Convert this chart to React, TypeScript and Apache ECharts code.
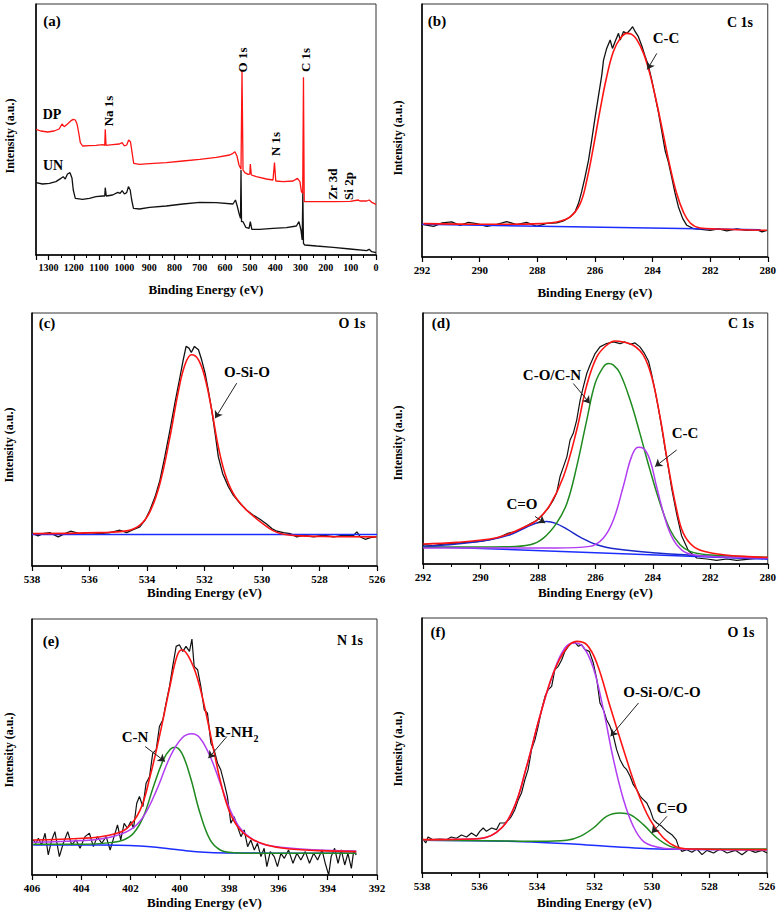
import React, { useEffect, useRef } from 'react';
import * as echarts from 'echarts';

const FONT = '"Liberation Serif", "Times New Roman", Times, serif';

// ---------- (a) survey spectra [binding energy, intensity a.u.] ----------
const aDP: number[][] = [
  [1350, 377], [1331, 372], [1304, 369], [1278, 372], [1258, 378], [1247, 393], [1238, 385],
  [1225, 393], [1211, 403], [1202, 407], [1194, 405], [1187, 393], [1180, 365], [1174, 337],
  [1165, 327], [1138, 328], [1112, 329], [1085, 331], [1077, 329], [1075, 377], [1072, 329],
  [1046, 331], [1019, 333], [1008, 337], [999, 327], [990, 330], [982, 345], [975, 340],
  [968, 305], [962, 275], [939, 272], [899, 274], [833, 277], [767, 282], [700, 287],
  [634, 293], [581, 300], [568, 305], [560, 310], [552, 297], [544, 270], [536, 257],
  [532, 553], [528, 255], [521, 247], [508, 242], [501, 243], [499, 273], [495, 240],
  [475, 235], [435, 228], [409, 225], [403, 277], [398, 222], [369, 220], [329, 222],
  [312, 230], [302, 220], [296, 190], [291, 185], [288, 533], [285, 160], [236, 160],
  [170, 160], [103, 161], [70, 165], [64, 162], [37, 162], [27, 165], [17, 158], [0, 152],
];
const aUN: number[][] = [
  [1350, 217], [1324, 213], [1297, 215], [1271, 220], [1251, 230], [1242, 235], [1234, 228],
  [1225, 243], [1215, 247], [1207, 230], [1202, 195], [1194, 170], [1165, 167], [1138, 170],
  [1112, 175], [1085, 177], [1077, 177], [1075, 202], [1071, 177], [1046, 180], [1025, 188],
  [1016, 185], [1008, 193], [999, 183], [990, 187], [983, 205], [976, 195], [970, 165],
  [963, 140], [939, 138], [899, 143], [833, 147], [767, 153], [700, 158], [634, 157],
  [568, 153], [558, 165], [551, 147], [544, 125], [538, 110], [536, 255], [534, 100],
  [528, 100], [517, 83], [504, 80], [499, 100], [493, 77], [462, 77], [409, 80], [356, 82],
  [316, 87], [306, 100], [298, 75], [293, 45], [290.5, 190], [288, 35], [283, 30],
  [236, 27], [170, 23], [103, 18], [37, 13], [27, 17], [17, 10], [0, 7],
];

// ---------- (b) C 1s ----------
const bRaw: number[][] = [
  [291.95, 97], [291.6, 92], [291.3, 102], [290.97, 105], [290.68, 95], [290.39, 104],
  [290.1, 100], [289.75, 92], [289.4, 98], [289.06, 106], [288.71, 97], [288.37, 104],
  [288.02, 92], [287.67, 101], [287.32, 102], [287.09, 108], [286.86, 120], [286.69, 135],
  [286.57, 160], [286.46, 195], [286.34, 240], [286.22, 290], [286.11, 350], [285.99, 420],
  [285.88, 480], [285.76, 545], [285.7, 590], [285.59, 625], [285.47, 650], [285.39, 625],
  [285.3, 645], [285.18, 670], [285.12, 650], [285.01, 675], [284.89, 670], [284.78, 680],
  [284.69, 690], [284.6, 675], [284.49, 660], [284.37, 632], [284.26, 602], [284.14, 572],
  [284.03, 532], [283.91, 482], [283.79, 432], [283.68, 378], [283.56, 318], [283.45, 285],
  [283.33, 238], [283.22, 192], [283.1, 150], [282.95, 115], [282.81, 95], [282.58, 85],
  [282.23, 82], [282.0, 80], [281.71, 84], [281.42, 78], [281.07, 84], [280.73, 80],
  [280.38, 82], [280.2, 75], [280.03, 80],
];
const bFit: number[][] = [
  [291.95, 100], [289.64, 98], [287.9, 100], [287.32, 105], [286.86, 120], [286.51, 160],
  [286.28, 230], [286.05, 330], [285.82, 440], [285.59, 540], [285.36, 615], [285.12, 655],
  [284.89, 670], [284.72, 667], [284.55, 652], [284.31, 610], [284.08, 545], [283.85, 460],
  [283.62, 365], [283.39, 270], [283.16, 190], [282.93, 135], [282.69, 102], [282.35, 87],
  [281.77, 84], [280.03, 80],
];
const bBase: number[][] = [[292, 98], [280.25, 82]];
const bArrows: number[][] = [[283.85, 610, 284.18, 562]];

// ---------- (c) O 1s ----------
const cRaw: number[][] = [
  [537.97, 97], [537.79, 90], [537.62, 97], [537.38, 100], [537.09, 87], [536.86, 97],
  [536.66, 104], [536.34, 97], [535.99, 100], [535.64, 97], [535.29, 100], [534.94, 107],
  [534.71, 100], [534.48, 109], [534.25, 117], [534.07, 137], [533.9, 167], [533.72, 207],
  [533.55, 257], [533.38, 327], [533.2, 407], [533.03, 487], [532.85, 567], [532.74, 617],
  [532.64, 657], [532.54, 652], [532.46, 639], [532.35, 657], [532.21, 647], [532.1, 617],
  [531.98, 577], [531.87, 527], [531.75, 467], [531.63, 397], [531.52, 327], [531.37, 277],
  [531.17, 237], [531.0, 212], [530.76, 187], [530.53, 167], [530.3, 152], [530.07, 140],
  [529.83, 125], [529.66, 112], [529.48, 104], [529.25, 100], [529.02, 97], [528.79, 87],
  [528.56, 92], [528.21, 87], [527.86, 92], [527.51, 87], [527.16, 92], [526.81, 92],
  [526.7, 102], [526.58, 87], [526.41, 80], [526.23, 85], [526.02, 87],
];
const cFit: number[][] = [
  [537.97, 97], [535.64, 100], [534.71, 105], [534.25, 122], [533.9, 162], [533.55, 247],
  [533.2, 387], [532.91, 522], [532.68, 602], [532.45, 632], [532.21, 617], [531.98, 562],
  [531.75, 467], [531.52, 357], [531.29, 277], [531.0, 217], [530.65, 177], [530.3, 149],
  [529.95, 125], [529.6, 105], [529.25, 95], [528.67, 90], [527.51, 88], [526.02, 87],
];
const cBase: number[][] = [[538, 94], [526, 94]];
const cArrows: number[][] = [[530.88, 547, 531.63, 442]];

// ---------- (d) C 1s deconvolution ----------
const dRaw: number[][] = [
  [291.99, 58], [291.64, 55], [291.29, 60], [290.83, 63], [290.36, 66], [290.02, 68],
  [289.67, 73], [289.32, 81], [289.03, 93], [288.74, 98], [288.51, 108], [288.27, 121],
  [288.04, 131], [287.81, 151], [287.64, 168], [287.46, 193], [287.35, 213], [287.23, 263],
  [287.11, 293], [286.99, 323], [286.88, 373], [286.77, 393], [286.65, 433], [286.53, 493],
  [286.42, 533], [286.3, 573], [286.19, 598], [286.01, 633], [285.84, 653], [285.61, 663],
  [285.37, 668], [285.14, 663], [284.97, 668], [284.79, 661], [284.62, 665], [284.45, 653],
  [284.31, 636], [284.15, 610], [284.04, 570], [283.92, 520], [283.81, 470], [283.69, 410],
  [283.57, 345], [283.46, 290], [283.34, 225], [283.17, 150], [283.0, 85], [282.76, 40],
  [282.47, 18], [282.12, 15], [281.78, 11], [281.43, 15], [281.08, 11], [280.73, 14],
  [280.38, 17], [280.04, 18],
];
const dFit: number[][] = [
  [291.99, 60], [290.83, 65], [289.67, 75], [289.09, 88], [288.51, 110], [288.04, 131],
  [287.58, 178], [287.11, 263], [286.65, 403], [286.3, 538], [285.95, 623], [285.61, 658],
  [285.32, 671], [285.03, 668], [284.68, 658], [284.33, 628], [284.04, 563], [283.75, 443],
  [283.46, 293], [283.17, 163], [282.94, 93], [282.59, 53], [282.12, 36], [281.54, 28],
  [280.85, 23], [280.0, 20],
];
const dCON: number[][] = [
  [291.99, 50], [290.83, 51], [289.09, 52], [288.27, 58], [287.81, 78], [287.35, 123],
  [286.99, 183], [286.65, 293], [286.3, 433], [286.01, 543], [285.72, 593], [285.55, 603],
  [285.37, 598], [285.14, 573], [284.79, 493], [284.45, 393], [284.1, 283], [283.75, 183],
  [283.4, 103], [283.05, 58], [282.7, 38], [282.12, 28], [280.0, 20],
];
const dCC: number[][] = [
  [291.99, 48], [289.67, 48], [287.35, 48], [286.19, 53], [285.72, 78], [285.37, 133],
  [285.03, 233], [284.74, 323], [284.51, 351], [284.33, 348], [284.1, 313], [283.87, 233],
  [283.63, 153], [283.4, 93], [283.17, 58], [282.82, 33], [282.12, 23], [280.0, 18],
];
const dCdO: number[][] = [
  [291.99, 53], [290.83, 60], [289.67, 73], [288.97, 88], [288.39, 111], [287.99, 125],
  [287.69, 128], [287.4, 123], [286.99, 105], [286.53, 81], [285.95, 58], [285.26, 45],
  [283.87, 33], [281.54, 21], [280.0, 16],
];
const dBase: number[][] = [[292, 53], [280, 15]];
const dArrows: number[][] = [
  [286.77, 543, 286.19, 483],
  [283.17, 343, 283.92, 293],
  [288.1, 143, 287.75, 123],
];

// ---------- (e) N 1s ----------
const eRaw: number[][] = [
  [405.95, 105], [405.84, 95], [405.74, 110], [405.61, 90], [405.47, 125], [405.34, 60],
  [405.2, 105], [405.07, 130], [404.89, 55], [404.73, 95], [404.55, 130], [404.39, 90],
  [404.21, 105], [404.05, 80], [403.85, 115], [403.67, 125], [403.51, 85], [403.35, 115],
  [403.17, 95], [402.99, 115], [402.83, 75], [402.67, 115], [402.53, 150], [402.4, 105],
  [402.26, 155], [402.13, 140], [401.99, 160], [401.88, 140], [401.75, 215], [401.64, 235],
  [401.5, 205], [401.37, 275], [401.23, 295], [401.1, 365], [400.96, 375], [400.83, 445],
  [400.69, 465], [400.56, 515], [400.42, 565], [400.29, 625], [400.15, 685], [400.02, 690],
  [399.88, 670], [399.75, 685], [399.61, 670], [399.51, 707], [399.42, 625], [399.28, 615],
  [399.15, 565], [399.01, 495], [398.88, 485], [398.74, 395], [398.61, 375], [398.47, 335],
  [398.34, 315], [398.2, 275], [398.07, 235], [397.93, 155], [397.8, 175], [397.66, 145],
  [397.52, 115], [397.39, 135], [397.25, 85], [397.12, 105], [396.98, 75], [396.85, 95],
  [396.71, 55], [396.58, 80], [396.47, 25], [396.33, 70], [396.17, 55], [396.04, 25],
  [395.9, 65], [395.76, 50], [395.59, 75], [395.41, 35], [395.25, 65], [395.09, 45],
  [394.91, 70], [394.74, 35], [394.57, 65], [394.41, 45], [394.23, 75], [394.1, 35],
  [393.96, 0], [393.86, 55], [393.72, 80], [393.58, 35], [393.45, 75], [393.31, 30],
  [393.18, 65], [393.04, 20], [392.95, 70], [392.84, 60],
];
const eFit: number[][] = [
  [405.95, 105], [403.91, 110], [402.83, 120], [402.15, 140], [401.61, 195], [401.21, 295],
  [400.8, 425], [400.39, 570], [400.12, 655], [399.92, 675], [399.65, 655], [399.31, 595],
  [398.97, 495], [398.63, 375], [398.3, 265], [397.96, 185], [397.55, 135], [397.01, 105],
  [396.47, 90], [395.79, 80], [394.44, 73], [392.84, 70],
];
const eCN: number[][] = [
  [405.95, 92], [403.91, 92], [402.83, 97], [402.29, 105], [401.88, 125], [401.48, 175],
  [401.07, 265], [400.67, 345], [400.39, 377], [400.19, 383], [399.92, 365], [399.58, 295],
  [399.18, 185], [398.77, 105], [398.36, 75], [397.82, 67], [396.47, 65], [392.84, 65],
];
const eRNH2: number[][] = [
  [405.95, 98], [403.91, 103], [402.83, 113], [402.02, 135], [401.48, 175], [400.94, 255],
  [400.39, 355], [399.92, 410], [399.51, 423], [399.18, 410], [398.77, 355], [398.36, 275],
  [397.96, 195], [397.55, 140], [397.01, 105], [396.47, 89], [395.11, 78], [392.84, 72],
];
const eBase: number[][] = [
  [405.95, 90], [403.24, 90], [401.61, 87], [400.8, 82], [399.99, 75], [399.18, 69],
  [398.09, 66], [392.84, 65],
];
const eArrows: number[][] = [
  [401.41, 385, 400.6, 340],
  [398.09, 415, 398.84, 350],
];

// ---------- (f) O 1s deconvolution ----------
const fRaw: number[][] = [
  [537.97, 102], [537.87, 90], [537.79, 108], [537.62, 100], [537.38, 102], [537.15, 100],
  [536.98, 108], [536.8, 104], [536.63, 114], [536.45, 108], [536.28, 120], [536.11, 110],
  [535.99, 125], [535.87, 135], [535.76, 125], [535.58, 135], [535.41, 130], [535.29, 150],
  [535.12, 150], [535.0, 158], [534.89, 170], [534.77, 190], [534.65, 220], [534.54, 240],
  [534.42, 280], [534.31, 310], [534.19, 370], [534.07, 400], [533.96, 440], [533.84, 490],
  [533.72, 530], [533.61, 550], [533.49, 560], [533.38, 610], [533.26, 620], [533.14, 640],
  [533.03, 665], [532.91, 680], [532.8, 690], [532.68, 692], [532.56, 680], [532.45, 685],
  [532.33, 670], [532.18, 665], [532.04, 630], [531.92, 580], [531.81, 510], [531.69, 490],
  [531.58, 460], [531.46, 440], [531.34, 410], [531.23, 370], [531.11, 340], [530.99, 320],
  [530.88, 310], [530.76, 290], [530.65, 265], [530.53, 250], [530.41, 230], [530.3, 220],
  [530.18, 210], [530.07, 190], [529.95, 160], [529.83, 150], [529.66, 140], [529.48, 125],
  [529.31, 115], [529.16, 100], [529.08, 80], [528.96, 65], [528.79, 70], [528.61, 62],
  [528.44, 72], [528.26, 55], [528.09, 68], [527.86, 60], [527.63, 72], [527.39, 60],
  [527.1, 68], [526.87, 55], [526.64, 70], [526.41, 62], [526.17, 68], [526.0, 60],
];
const fFit: number[][] = [
  [537.97, 100], [536.22, 102], [535.41, 122], [534.83, 190], [534.36, 320], [533.9, 470],
  [533.43, 600], [532.97, 675], [532.62, 695], [532.27, 685], [531.92, 630], [531.46, 500],
  [530.99, 370], [530.53, 250], [530.07, 160], [529.6, 105], [529.14, 78], [528.67, 72],
  [526.0, 70],
];
const fOSi: number[][] = [
  [537.97, 100], [536.22, 102], [535.41, 122], [534.83, 190], [534.36, 320], [533.9, 470],
  [533.43, 600], [533.03, 675], [532.7, 690], [532.39, 678], [532.04, 615], [531.69, 490],
  [531.34, 340], [530.99, 220], [530.65, 140], [530.3, 95], [529.83, 78], [529.25, 72],
  [526.0, 70],
];
const fCdO: number[][] = [
  [537.97, 98], [535.64, 97], [533.9, 95], [532.97, 98], [532.5, 110], [532.04, 135],
  [531.58, 170], [531.11, 180], [530.76, 175], [530.3, 145], [529.83, 105], [529.37, 80],
  [528.9, 72], [526.0, 72],
];
const fBase: number[][] = [
  [537.97, 98], [534.48, 94], [532.74, 87], [531.58, 80], [530.41, 74], [529.25, 71],
  [526.0, 70],
];
const fArrows: number[][] = [
  [530.47, 510, 531.44, 410],
  [529.48, 170, 530.01, 120],
];

// axis ranges [min, max, interval] and y extents
const xRanges: number[][] = [
  [0, 1350, 100], [280, 292, 2], [526, 538, 2], [280, 292, 2], [392, 406, 2], [526, 538, 2],
];
const yMaxes = [753, 758, 757, 755, 767, 765];

const BLACK = '#111111';
const RED = '#ff1414';
const BLUE = '#1c2dff';
const GREEN = '#1f8a1f';
const PURPLE = '#b13cf2';

export default function App() {
  const ref = useRef<HTMLDivElement>(null);

  useEffect(() => {
    if (!ref.current) return;
    const chart = echarts.init(ref.current, undefined, { renderer: 'svg' });

    const grids = [
      { left: 36, top: 4, width: 340, height: 251 },
      { left: 422, top: 4, width: 346, height: 253 },
      { left: 32, top: 313, width: 345, height: 253 },
      { left: 423, top: 313, width: 345, height: 251 },
      { left: 32, top: 619, width: 345, height: 256 },
      { left: 422, top: 618, width: 345, height: 255 },
    ].map((g) => ({ ...g, show: true, borderColor: '#333', borderWidth: 1, containLabel: false }));

    const nameGaps = [28, 29, 20, 22, 21, 23];

    const xAxis = xRanges.map((r, i) => ({
      type: 'value',
      gridIndex: i,
      min: r[0],
      max: r[1],
      interval: r[2],
      inverse: true,
      name: 'Binding Energy (eV)',
      nameLocation: 'middle',
      nameGap: nameGaps[i],
      nameTextStyle: { fontFamily: FONT, fontWeight: 'bold', fontSize: 13, color: '#000' },
      axisLine: { show: true, onZero: false, lineStyle: { color: '#000', width: 1.5 } },
      axisTick: { show: true, inside: false, length: 5, lineStyle: { color: '#000', width: 1.2 } },
      minorTick: { show: true, splitNumber: 2, length: 3, lineStyle: { color: '#000', width: 1 } },
      axisLabel: {
        fontFamily: FONT,
        fontWeight: 'bold',
        fontSize: i === 0 ? 10 : 11,
        color: '#000',
        margin: 7,
        showMaxLabel: i !== 0,
        formatter: (v: number) => (v % r[2] === 0 ? String(v) : ''),
      },
      splitLine: { show: false },
      minorSplitLine: { show: false },
    }));

    const yAxis = yMaxes.map((m, i) => ({
      type: 'value',
      gridIndex: i,
      min: 0,
      max: m,
      axisLine: { show: true, onZero: false, lineStyle: { color: '#000', width: 1.5 } },
      axisTick: { show: false },
      axisLabel: { show: false },
      splitLine: { show: false },
    }));

    const line = (name: string, data: number[][], idx: number, color: string, width: number, smooth: boolean | number, z: number, arrows?: number[][]) => {
      const s: any = {
        name,
        type: 'line',
        xAxisIndex: idx,
        yAxisIndex: idx,
        data,
        showSymbol: false,
        symbol: 'none',
        smooth,
        silent: true,
        z,
        lineStyle: { color, width },
      };
      if (arrows) {
        s.markLine = {
          silent: true,
          symbol: ['none', 'arrow'],
          symbolSize: 7,
          lineStyle: { color: '#222', width: 1, type: 'solid' },
          label: { show: false },
          emphasis: { disabled: true },
          data: arrows.map((a) => [{ coord: [a[0], a[1]] }, { coord: [a[2], a[3]] }]),
        };
      }
      return s;
    };

    const series = [
      line('UN', aUN, 0, BLACK, 1.3, false, 2),
      line('DP', aDP, 0, RED, 1.3, false, 3),

      line('C 1s raw', bRaw, 1, BLACK, 1.3, false, 2, bArrows),
      line('Background', bBase, 1, BLUE, 1.5, false, 3),
      line('C 1s fit', bFit, 1, RED, 1.6, 0.4, 4),

      line('O 1s raw', cRaw, 2, BLACK, 1.3, false, 2, cArrows),
      line('Background', cBase, 2, BLUE, 1.5, false, 3),
      line('O 1s fit', cFit, 2, RED, 1.6, 0.4, 4),

      line('C 1s raw DP', dRaw, 3, BLACK, 1.2, false, 2, dArrows),
      line('Background', dBase, 3, BLUE, 1.5, false, 3),
      line('C=O', dCdO, 3, '#1a28c8', 1.5, 0.4, 3),
      line('C-O/C-N', dCON, 3, GREEN, 1.5, 0.4, 3),
      line('C-C', dCC, 3, PURPLE, 1.5, 0.4, 3),
      line('C 1s fit DP', dFit, 3, RED, 1.6, 0.4, 4),

      line('N 1s raw', eRaw, 4, BLACK, 1.2, false, 2, eArrows),
      line('Background', eBase, 4, BLUE, 1.5, 0.4, 3),
      line('C-N', eCN, 4, GREEN, 1.5, 0.4, 3),
      line('R-NH2', eRNH2, 4, PURPLE, 1.5, 0.4, 3),
      line('N 1s fit', eFit, 4, RED, 1.6, 0.4, 4),

      line('O 1s raw DP', fRaw, 5, BLACK, 1.2, false, 2, fArrows),
      line('Background', fBase, 5, BLUE, 1.5, 0.4, 3),
      line('C=O', fCdO, 5, GREEN, 1.5, 0.4, 3),
      line('O-Si-O/C-O', fOSi, 5, PURPLE, 1.5, 0.4, 3),
      line('O 1s fit DP', fFit, 5, RED, 1.6, 0.4, 4),
    ];

    const t = (text: string, x: number, y: number, size: number, rot = 0) => ({
      type: 'text',
      x,
      y,
      rotation: rot,
      silent: true,
      z: 100,
      style: {
        text,
        font: `bold ${size}px ${FONT}`,
        fill: '#000',
        align: 'center',
        verticalAlign: 'middle',
        textAlign: 'center',
        textVerticalAlign: 'middle',
      },
    });
    const R = Math.PI / 2;

    const graphic = [
      // panel letters
      t('(a)', 52, 21, 15), t('(b)', 437, 21, 15), t('(c)', 47, 323, 15),
      t('(d)', 441, 323, 15), t('(e)', 51, 641, 15), t('(f)', 438, 632, 15),
      // core-level titles
      t('C 1s', 740, 22, 14), t('O 1s', 352, 323, 14), t('C 1s', 741, 323, 14),
      t('N 1s', 350, 640, 14), t('O 1s', 741, 632, 14),
      // y-axis names
      t('Intensity (a.u.)', 10, 136, 12, R), t('Intensity (a.u.)', 398, 138, 12, R),
      t('Intensity (a.u.)', 9, 445, 12, R), t('Intensity (a.u.)', 398, 443, 12, R),
      t('Intensity (a.u.)', 9, 750, 12, R), t('Intensity (a.u.)', 398, 749, 12, R),
      // survey labels
      t('DP', 52, 114, 14), t('UN', 53, 165, 14),
      t('Na 1s', 108, 111, 13, R), t('O 1s', 242, 60, 13, R), t('C 1s', 305, 60, 13, R),
      t('N 1s', 275, 144, 13, R), t('Zr 3d', 332, 184, 13, R), t('Si 2p', 348, 186, 13, R),
      // peak annotations
      t('C-C', 666, 38, 15),
      t('O-Si-O', 247, 372, 15),
      t('C-O/C-N', 552, 375, 15), t('C-C', 685, 433, 15), t('C=O', 522, 504, 15),
      t('C-N', 135, 737, 15), t('R-NH', 234, 732, 15), t('2', 256, 738, 10),
      t('O-Si-O/C-O', 662, 692, 15), t('C=O', 672, 808, 15),
    ];

    chart.setOption({
      animation: false,
      backgroundColor: '#ffffff',
      grid: grids,
      xAxis,
      yAxis,
      series,
      graphic,
    });

    return () => chart.dispose();
  }, []);

  return (
    <div
      ref={ref}
      style={{ position: 'absolute', left: 0, top: 0, width: 779, height: 921, background: '#fff' }}
    />
  );
}
